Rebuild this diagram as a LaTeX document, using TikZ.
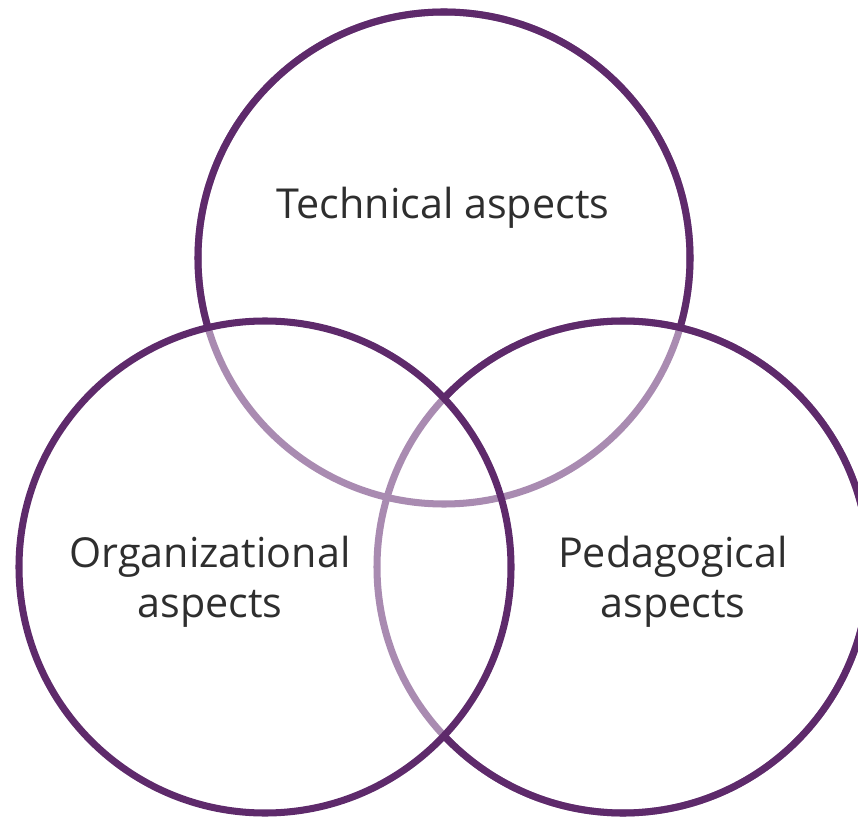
\documentclass[tikz,border=0pt]{standalone}
\usepackage{fontspec}
\setmainfont{Open Sans}
\definecolor{plum}{HTML}{5E2A6B}
\definecolor{plumlight}{HTML}{A98BB1}
\definecolor{ink}{HTML}{2E2E2E}
\tikzset{
  ring/.style={line width=4pt,draw=plum},
  faded/.style={draw=plumlight},
  label/.style={text=ink,align=center,font=\fontsize{23.5}{28.5}\selectfont}
}
\begin{document}
\begin{tikzpicture}[x=0.02cm,y=0.02cm]
    \useasboundingbox (0,0) rectangle (858,822);
    \coordinate (tech) at (444,564);
    \coordinate (org) at (265,255);
    \coordinate (ped) at (623,255);
    \draw[ring,faded] (tech) circle (246);
    \draw[ring,faded] (ped) circle (246);
    \begin{scope}[even odd rule]
      \clip (-100,-100) rectangle (1000,1000) (org) circle (246);
      \draw[ring] (ped) circle (246);
      \clip (-100,-100) rectangle (1000,1000) (ped) circle (246);
      \draw[ring] (tech) circle (246);
    \end{scope}
    \draw[ring] (org) circle (246);
    \node[label] (techtext) at (443,614) {Technical aspects};
    \node[label] (orgtext) at (210,240) {Organizational\\aspects};
    \node[label] (pedtext) at (673,240) {Pedagogical\\aspects};
  \end{tikzpicture}
\end{document}
